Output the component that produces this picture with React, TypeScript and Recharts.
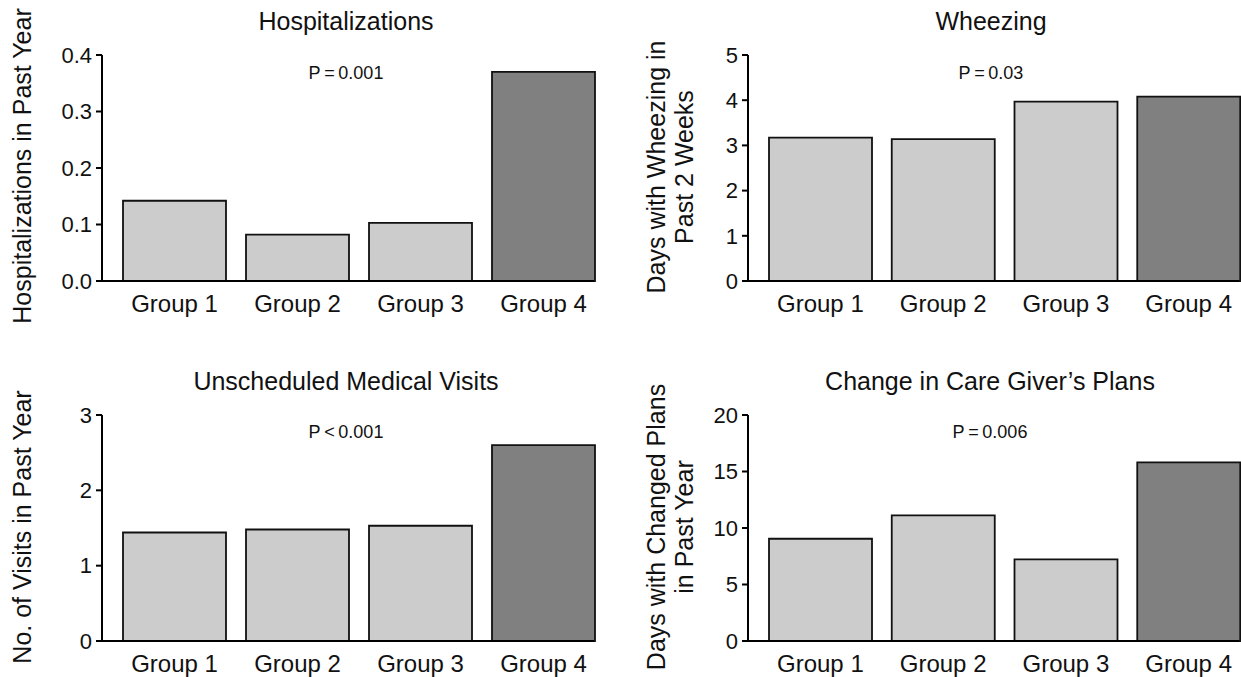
import React from "react";
import { BarChart, Bar, XAxis, YAxis, Cell } from "recharts";

const groups = ["Group 1", "Group 2", "Group 3", "Group 4"];
const hospitalizations = [0.142, 0.082, 0.103, 0.37];
const wheezing = [3.17, 3.14, 3.97, 4.08];
const visits = [1.44, 1.48, 1.53, 2.6];
const changedPlans = [9.05, 11.12, 7.23, 15.8];
const barColors = ["#cccccc", "#cccccc", "#cccccc", "#808080"];

const FONT = "'Liberation Sans', Arial, sans-serif";

interface PanelProps {
  values: number[];
  ticks: number[];
  decimals: number;
  left: number;
  top: number;
  width: number;
  height: number;
  margin: { top: number; right: number; bottom: number; left: number };
}

function Panel({ values, ticks, decimals, left, top, width, height, margin }: PanelProps) {
  const data = groups.map((g, i) => ({ group: g, value: values[i] }));
  return (
    <div style={{ position: "absolute", left, top }}>
      <BarChart width={width} height={height} data={data} margin={margin} barSize={103}>
        <XAxis
          dataKey="group"
          tickLine={false}
          axisLine={{ stroke: "#000", strokeWidth: 2 }}
          tick={{ fontSize: 24, fill: "#111", fontFamily: FONT }}
          tickSize={6}
          tickMargin={8}
          padding={{ left: 11, right: -11 }}
          interval={0}
        />
        <YAxis
          width={60}
          domain={[0, ticks[ticks.length - 1]]}
          ticks={ticks}
          interval={0}
          tickFormatter={(v: number) => v.toFixed(decimals)}
          axisLine={{ stroke: "#000", strokeWidth: 2 }}
          tickLine={{ stroke: "#000", strokeWidth: 2 }}
          tickSize={6}
          tickMargin={4}
          tick={{ fontSize: 22, fill: "#111", fontFamily: FONT }}
        />
        <Bar dataKey="value" stroke="#111" strokeWidth={1.8} isAnimationActive={false}>
          {data.map((_, i) => (
            <Cell key={i} fill={barColors[i]} />
          ))}
        </Bar>
      </BarChart>
    </div>
  );
}

function Centered({ x, y, size, children }: { x: number; y: number; size: number; children: React.ReactNode }) {
  return (
    <div
      style={{
        position: "absolute",
        left: x,
        top: y,
        transform: "translate(-50%, -50%)",
        fontFamily: FONT,
        fontSize: size,
        color: "#111",
        whiteSpace: "nowrap",
        lineHeight: 1,
      }}
    >
      {children}
    </div>
  );
}

function YLabel({ x, y, lines }: { x: number; y: number; lines: string[] }) {
  return (
    <div
      style={{
        position: "absolute",
        left: x,
        top: y,
        transform: "translate(-50%, -50%) rotate(-90deg)",
        fontFamily: FONT,
        fontSize: 25,
        lineHeight: "28px",
        color: "#111",
        whiteSpace: "nowrap",
        textAlign: "center",
      }}
    >
      {lines.map((l) => (
        <div key={l}>{l}</div>
      ))}
    </div>
  );
}

export default function App() {
  return (
    <div style={{ position: "absolute", left: 0, top: 0, width: 1241, height: 677, background: "#fff", overflow: "hidden" }}>
      <Panel
        values={hospitalizations}
        ticks={[0, 0.1, 0.2, 0.3, 0.4]}
        decimals={1}
        left={0}
        top={0}
        width={620}
        height={338}
        margin={{ top: 55, right: 26, bottom: 27, left: 42 }}
      />
      <Panel
        values={wheezing}
        ticks={[0, 1, 2, 3, 4, 5]}
        decimals={0}
        left={620}
        top={0}
        width={621}
        height={338}
        margin={{ top: 55, right: 2, bottom: 27, left: 68 }}
      />
      <Panel
        values={visits}
        ticks={[0, 1, 2, 3]}
        decimals={0}
        left={0}
        top={338}
        width={620}
        height={339}
        margin={{ top: 77, right: 26, bottom: 6, left: 42 }}
      />
      <Panel
        values={changedPlans}
        ticks={[0, 5, 10, 15, 20]}
        decimals={0}
        left={620}
        top={338}
        width={621}
        height={339}
        margin={{ top: 77, right: 2, bottom: 6, left: 68 }}
      />

      <Centered x={346} y={21} size={25}>Hospitalizations</Centered>
      <Centered x={991} y={21} size={25}>Wheezing</Centered>
      <Centered x={346} y={381} size={25}>Unscheduled Medical Visits</Centered>
      <Centered x={990} y={381} size={25}>Change in Care Giver’s Plans</Centered>

      <Centered x={346} y={73} size={18}>P{"\u2009"}={"\u2009"}0.001</Centered>
      <Centered x={991} y={73} size={18}>P{"\u2009"}={"\u2009"}0.03</Centered>
      <Centered x={346} y={432} size={18}>P{"\u2009"}&lt;{"\u2009"}0.001</Centered>
      <Centered x={990} y={432} size={18}>P{"\u2009"}={"\u2009"}0.006</Centered>

      <YLabel x={22} y={166} lines={["Hospitalizations in Past Year"]} />
      <YLabel x={670} y={167} lines={["Days with Wheezing in", "Past 2 Weeks"]} />
      <YLabel x={22} y={527} lines={["No. of Visits in Past Year"]} />
      <YLabel x={670} y={527} lines={["Days with Changed Plans", "in Past Year"]} />
    </div>
  );
}
